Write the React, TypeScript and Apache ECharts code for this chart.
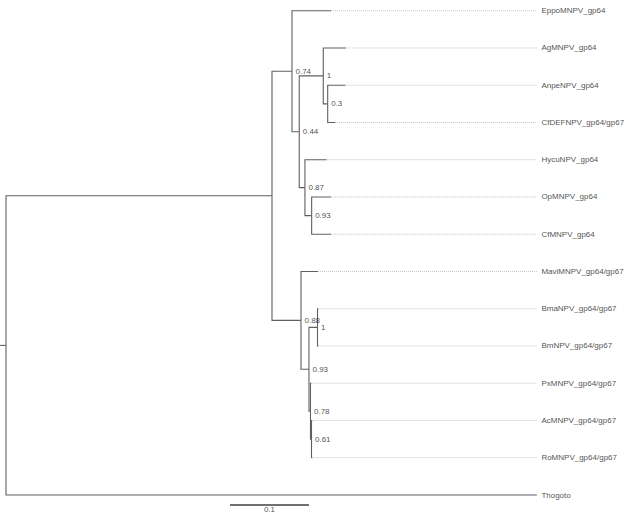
import React, { useEffect, useRef } from "react";
import * as echarts from "echarts";

// Tree nodes (pre-order). Internal nodes have empty names.
const nodeNames = [
  "", "", "", "EppoMNPV_gp64", "", "", "AgMNPV_gp64", "", "AnpeNPV_gp64",
  "CfDEFNPV_gp64/gp67", "", "HycuNPV_gp64", "", "OpMNPV_gp64", "CfMNPV_gp64",
  "", "MaviMNPV_gp64/gp67", "", "", "BmaNPV_gp64/gp67", "BmNPV_gp64/gp67", "",
  "PxMNPV_gp64/gp67", "", "AcMNPV_gp64/gp67", "RoMNPV_gp64/gp67", "Thogoto",
];
const nodeParents = [
  -1, 0, 1, 2, 2, 4, 5, 5, 7, 7, 4, 10, 10, 12, 12, 1, 15, 15, 17, 18, 18, 17,
  21, 21, 23, 23, 0,
];
const branchLengths = [
  0, 0.3367, 0.0253, 0.0494, 0.0092, 0.0304, 0.0287, 0.0056, 0.0223, 0.0092,
  0.0072, 0.0275, 0.0085, 0.0244, 0.0244, 0.0367, 0.0215, 0.0101, 0.0108,
  0.001, 0.001, 0.0019, 0.001, 0.0013, 0.001, 0.001, 0.672,
];
const supportLabels = [
  "", "", "0.74", "", "0.44", "1", "", "0.3", "", "", "0.87", "", "0.93", "",
  "", "0.88", "", "0.93", "1", "", "", "0.78", "", "0.61", "", "", "",
];
const rootEdge = 0.0076;
const scaleBarLength = 0.1;
const scaleBarLabel = "0.1";

// layout constants (axis units)
const SCALE_X = 0.2835;
const SCALE_Y = 13.26;
const FONT = "'Liberation Sans', Arial, sans-serif";

export default function App() {
  const ref = useRef<HTMLDivElement>(null);
  useEffect(() => {
    const chart = echarts.init(ref.current!, null, { renderer: "svg" });
    const n = nodeNames.length;
    const children: number[][] = Array.from({ length: n }, () => []);
    let root = 0;
    nodeParents.forEach((p, i) => {
      if (p >= 0) children[p].push(i);
      else root = i;
    });
    const xs: number[] = new Array(n).fill(0);
    const ys: number[] = new Array(n).fill(0);
    let leafCount = 0;
    const visit = (i: number, x: number) => {
      xs[i] = x;
      const ch = children[i];
      if (ch.length === 0) {
        ys[i] = leafCount++;
        return;
      }
      ch.forEach((c) => visit(c, x + branchLengths[c]));
      ys[i] = (ys[ch[0]] + ys[ch[ch.length - 1]]) / 2;
    };
    visit(root, 0);
    const leaves = [...Array(n).keys()].filter((i) => children[i].length === 0);
    const internals = [...Array(n).keys()].filter(
      (i) => children[i].length > 0 && supportLabels[i] !== ""
    );
    const alignX = Math.max(...leaves.map((i) => xs[i]));

    const edges: any[] = [];
    edges.push({ coords: [[-rootEdge, ys[root]], [0, ys[root]]] });
    for (let i = 0; i < n; i++) {
      const p = nodeParents[i];
      if (p < 0) continue;
      edges.push({
        coords: [
          [xs[p], ys[p]],
          [xs[p], ys[i]],
          [xs[i], ys[i]],
        ],
      });
    }
    const dotted = leaves
      .filter((i) => alignX - xs[i] > 1e-6)
      .map((i) => ({ coords: [[xs[i], ys[i]], [alignX, ys[i]]] }));

    chart.setOption({
      animation: false,
      grid: { left: 0, right: 0, top: 10.7, bottom: 20 },
      xAxis: {
        type: "value",
        min: -rootEdge,
        max: -rootEdge + 634 / 790,
        show: false,
      },
      yAxis: { type: "value", min: 0, max: 13, inverse: true, show: false },
      series: [
        {
          type: "lines",
          coordinateSystem: "cartesian2d",
          polyline: true,
          clip: false,
          silent: true,
          lineStyle: { color: "#c4c4c4", width: 1, type: "dotted", opacity: 1 },
          data: dotted,
        },
        {
          type: "lines",
          coordinateSystem: "cartesian2d",
          polyline: true,
          clip: false,
          silent: true,
          lineStyle: { color: "#606060", width: 1.1, opacity: 1 },
          data: edges,
        },
        {
          type: "lines",
          coordinateSystem: "cartesian2d",
          clip: false,
          silent: true,
          lineStyle: { color: "#404040", width: 1.5, opacity: 1 },
          data: [
            { coords: [[SCALE_X, SCALE_Y], [SCALE_X + scaleBarLength, SCALE_Y]] },
          ],
        },
        {
          type: "scatter",
          clip: false,
          silent: true,
          symbolSize: 0,
          data: leaves.map((i) => [alignX, ys[i], nodeNames[i]]),
          label: {
            show: true,
            position: "right",
            distance: 4.5,
            formatter: (p: any) => p.value[2],
            fontSize: 8,
            fontFamily: FONT,
            color: "#222222",
          },
        },
        {
          type: "scatter",
          clip: false,
          silent: true,
          symbolSize: 0,
          data: internals.map((i) => [xs[i], ys[i], supportLabels[i]]),
          label: {
            show: true,
            position: "right",
            distance: 3.5,
            formatter: (p: any) => p.value[2],
            fontSize: 8,
            fontFamily: FONT,
            color: "#222222",
          },
        },
        {
          type: "scatter",
          clip: false,
          silent: true,
          symbolSize: 0,
          data: [[SCALE_X + scaleBarLength / 2, SCALE_Y, scaleBarLabel]],
          label: {
            show: true,
            position: "bottom",
            distance: 1,
            lineHeight: 8,
            formatter: (p: any) => p.value[2],
            fontSize: 8,
            fontFamily: FONT,
            color: "#222222",
          },
        },
      ],
    });
    return () => chart.dispose();
  }, []);
  return (
    <div
      ref={ref}
      style={{ position: "fixed", left: 0, top: 0, width: 634, height: 515, background: "#fff" }}
    />
  );
}
